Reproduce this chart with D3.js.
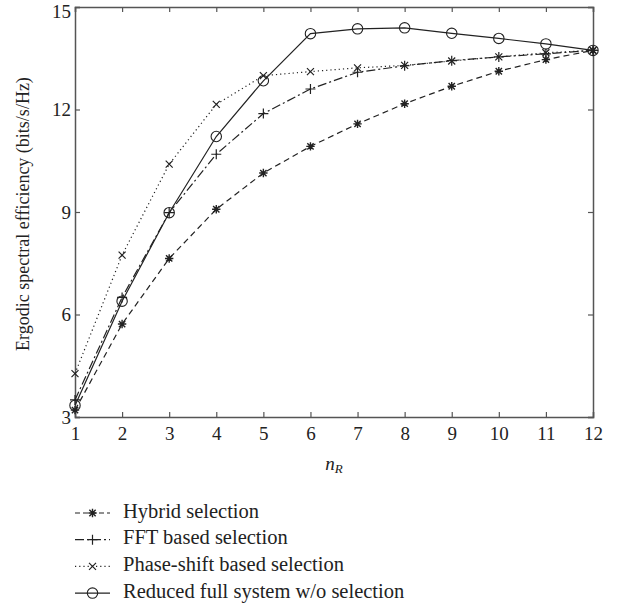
<!DOCTYPE html>
<html>
<head>
<meta charset="utf-8">
<script src="https://cdn.jsdelivr.net/npm/d3@7"></script>
<style>
  body { margin: 0; background: #fff; }
  text { font-family: "Liberation Serif", "DejaVu Serif", serif; fill: #222; }
</style>
</head>
<body>
<div id="chart"></div>
<script>
// n_R values on the x axis
const nR = [1, 2, 3, 4, 5, 6, 7, 8, 9, 10, 11, 12];

// Series values
const hybrid  = [3.20, 5.72, 7.64, 9.08, 10.14, 10.92, 11.58, 12.17, 12.68, 13.12, 13.46, 13.73];
const fft     = [3.50, 6.50, 8.98, 10.69, 11.88, 12.60, 13.09, 13.28, 13.43, 13.54, 13.63, 13.73];
const phase   = [4.27, 7.74, 10.40, 12.15, 12.99, 13.11, 13.22, 13.29, 13.42, 13.54, 13.66, 13.73];
const reduced = [3.34, 6.39, 8.98, 11.21, 12.84, 14.22, 14.36, 14.39, 14.23, 14.08, 13.92, 13.73];

const seriesNames = ["Hybrid selection", "FFT based selection",
                     "Phase-shift based selection", "Reduced full system w/o selection"];
const yTicks = [3, 6, 9, 12, 15];

const width = 627, height = 613;
const margin = { left: 75, right: 34, top: 7, bottom: 196 };
const ink = "#222";

const svg = d3.select("#chart").append("svg")
    .attr("width", width)
    .attr("height", height);

const x = d3.scaleLinear().domain([1, 12]).range([margin.left, width - margin.right]);
const y = d3.scaleLinear().domain([3, 15]).range([height - margin.bottom, margin.top]);

// line styles + marker per series
const styles = [
    { data: hybrid,  dash: "6,4",       marker: "star" },
    { data: fft,     dash: "9,3,2,3",   marker: "plus" },
    { data: phase,   dash: "1.2,3",     marker: "cross" },
    { data: reduced, dash: null,        marker: "circle" }
];

function drawMarker(g, type, cx, cy) {
    if (type === "circle") {
        g.append("circle").attr("cx", cx).attr("cy", cy).attr("r", 5.2)
            .attr("fill", "none").attr("stroke", ink).attr("stroke-width", 1.1);
    } else if (type === "plus") {
        g.append("path").attr("d", `M${cx - 5},${cy}H${cx + 5}M${cx},${cy - 5}V${cy + 5}`)
            .attr("stroke", ink).attr("stroke-width", 1.2);
    } else if (type === "cross") {
        g.append("path").attr("d", `M${cx - 3.5},${cy - 3.5}L${cx + 3.5},${cy + 3.5}M${cx - 3.5},${cy + 3.5}L${cx + 3.5},${cy - 3.5}`)
            .attr("stroke", ink).attr("stroke-width", 1.2);
    } else if (type === "star") {
        const r = 4.2;
        g.append("path").attr("d",
            `M${cx - r},${cy}H${cx + r}M${cx},${cy - r}V${cy + r}` +
            `M${cx - r * 0.75},${cy - r * 0.75}L${cx + r * 0.75},${cy + r * 0.75}` +
            `M${cx - r * 0.75},${cy + r * 0.75}L${cx + r * 0.75},${cy - r * 0.75}`)
            .attr("stroke", ink).attr("stroke-width", 1.4);
    }
}

// Axes box
const axisColor = "#555";
const xAxis = svg.append("g")
    .attr("transform", `translate(0,${y(3)})`)
    .call(d3.axisBottom(x).tickValues(nR).tickSize(-5).tickPadding(9).tickFormat(d3.format("d")));
const xTop = svg.append("g")
    .attr("transform", `translate(0,${y(15)})`)
    .call(d3.axisTop(x).tickValues(nR).tickSize(-5).tickFormat(""));
const yAxis = svg.append("g")
    .attr("transform", `translate(${x(1)},0)`)
    .call(d3.axisLeft(y).tickValues(yTicks).tickSize(-5).tickPadding(4).tickFormat(d3.format("d")));
const yRight = svg.append("g")
    .attr("transform", `translate(${x(12)},0)`)
    .call(d3.axisRight(y).tickValues(yTicks).tickSize(-5).tickFormat(""));

[xAxis, xTop, yAxis, yRight].forEach(a => {
    a.select(".domain").attr("stroke", axisColor).attr("stroke-width", 1.5);
    a.selectAll(".tick line").attr("stroke", axisColor).attr("stroke-width", 1.2);
    a.selectAll("text").attr("font-size", 19).attr("fill", ink)
        .style("font-family", '"Liberation Serif", serif');
});
xAxis.selectAll(".tick text").attr("dy", "0.75em");
// keep the top "15" label inside the picture
yAxis.selectAll(".tick text").filter(d => d === 15).attr("dy", "0.55em");

// Lines and markers
const line = d3.line().x((d, i) => x(nR[i])).y(d => y(d));
styles.forEach(s => {
    svg.append("path")
        .datum(s.data)
        .attr("d", line)
        .attr("fill", "none")
        .attr("stroke", ink)
        .attr("stroke-width", 1.2)
        .attr("stroke-dasharray", s.dash);
    const g = svg.append("g");
    s.data.forEach((v, i) => drawMarker(g, s.marker, x(nR[i]), y(v)));
});

// Axis labels
svg.append("text")
    .attr("transform", `translate(25,${(y(3) + y(15)) / 2 + 2}) rotate(-90)`)
    .attr("text-anchor", "middle")
    .attr("dominant-baseline", "middle")
    .attr("font-size", 18)
    .text("Ergodic spectral efficiency (bits/s/Hz)");

const xl = svg.append("text")
    .attr("x", (x(1) + x(12)) / 2)
    .attr("y", 470)
    .attr("text-anchor", "middle")
    .attr("font-size", 19)
    .attr("font-style", "italic");
xl.append("tspan").text("n");
xl.append("tspan").attr("font-size", 13).attr("dy", 3).text("R");

// Legend
const legend = svg.append("g");
seriesNames.forEach((name, i) => {
    const ly = 513 + i * 26.7;
    const s = styles[i];
    legend.append("line")
        .attr("x1", 75).attr("x2", 110)
        .attr("y1", ly).attr("y2", ly)
        .attr("stroke", ink).attr("stroke-width", 1.2)
        .attr("stroke-dasharray", s.dash ? (s.marker === "star" ? "5,3" : s.dash) : null);
    drawMarker(legend, s.marker, 92.5, ly);
    legend.append("text")
        .attr("x", 123).attr("y", ly)
        .attr("dominant-baseline", "middle")
        .attr("font-size", 20.5)
        .text(name);
});
</script>
</body>
</html>
